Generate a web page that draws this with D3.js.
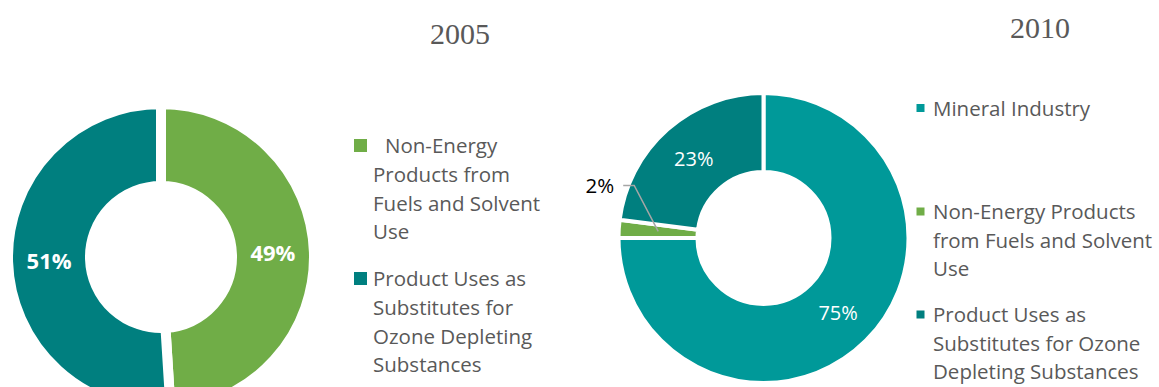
<!DOCTYPE html>
<html>
<head>
<meta charset="utf-8">
<script src="https://cdn.jsdelivr.net/npm/d3@7"></script>
<style>
  html, body { margin: 0; padding: 0; background: #ffffff; }
  svg { display: block; }
</style>
</head>
<body>
<svg id="chart" width="1159" height="387"></svg>
<script>
// ---- data ----
const categories = ["Mineral Industry", "Non-Energy Products from Fuels and Solvent Use", "Product Uses as Substitutes for Ozone Depleting Substances"];
const years = ["2005", "2010"];
const categories2005 = ["Non-Energy Products from Fuels and Solvent Use", "Product Uses as Substitutes for Ozone Depleting Substances"];
const values2005 = [49, 51];
const categories2010 = ["Mineral Industry", "Non-Energy Products from Fuels and Solvent Use", "Product Uses as Substitutes for Ozone Depleting Substances"];
const values2010 = [75, 2, 23];
const legendLines2005 = [["Non-Energy", "Products from", "Fuels and Solvent", "Use"],
                         ["Product Uses as", "Substitutes for", "Ozone Depleting", "Substances"]];
const legendLines2010 = [["Mineral Industry"],
                         ["Non-Energy Products", "from Fuels and Solvent", "Use"],
                         ["Product Uses as", "Substitutes for Ozone", "Depleting Substances"]];

const color = d3.scaleOrdinal()
  .domain(categories)
  .range(["#009999", "#70ad47", "#007f7f"]);

const svg = d3.select("#chart");
const sansFont = "'Open Sans', sans-serif";
const textGrey = "#595959";

// ---- titles ----
svg.append("text").attr("x", 460).attr("y", 44).attr("text-anchor", "middle")
  .attr("font-family", "'Liberation Serif', serif").attr("font-size", 30).attr("fill", textGrey)
  .text(years[0]);
svg.append("text").attr("x", 1040).attr("y", 38).attr("text-anchor", "middle")
  .attr("font-family", "'Liberation Serif', serif").attr("font-size", 30).attr("fill", textGrey)
  .text(years[1]);

const pie = d3.pie().sort(null).value(d => d.value);

// ---- 2005 donut ----
(function () {
  const cx = 161, cy = 257, R = 148, r = 76, sw = 10;
  const data = categories2005.map((c, i) => ({ cat: c, value: values2005[i] }));
  const arcs = pie(data);
  const arc = d3.arc().outerRadius(R + sw / 2).innerRadius(r - sw / 2);
  const labelArc = d3.arc().outerRadius((R + r) / 2).innerRadius((R + r) / 2);
  const g = svg.append("g").attr("transform", `translate(${cx},${cy})`);
  g.selectAll("path").data(arcs).join("path")
    .attr("d", arc).attr("fill", d => color(d.data.cat))
    .attr("stroke", "#ffffff").attr("stroke-width", sw);
  g.selectAll("text").data(arcs).join("text")
    .attr("x", d => labelArc.centroid(d)[0])
    .attr("y", d => labelArc.centroid(d)[1] + 8)
    .attr("text-anchor", "middle")
    .attr("font-family", sansFont).attr("font-weight", "bold").attr("font-size", 22)
    .attr("fill", "#ffffff")
    .text(d => d.data.value + "%");

  // legend
  const lg = svg.append("g");
  const itemTop = [153, 286];
  const lineH = 28.8;
  legendLines2005.forEach((lines, i) => {
    lg.append("rect").attr("x", 354).attr("y", itemTop[i] - 14).attr("width", 13).attr("height", 13)
      .attr("fill", color(categories2005[i]));
    lines.forEach((ln, j) => {
      lg.append("text")
        .attr("x", (i === 0 && j === 0) ? 385 : 373)
        .attr("y", itemTop[i] + j * lineH)
        .attr("font-family", sansFont).attr("font-size", 20.5).attr("fill", textGrey)
        .text(ln);
    });
  });
})();

// ---- 2010 donut ----
(function () {
  const cx = 763.5, cy = 238, R = 143, r = 68, sw = 4;
  const data = categories2010.map((c, i) => ({ cat: c, value: values2010[i] }));
  const arcs = pie(data);
  const arc = d3.arc().outerRadius(R + sw / 2).innerRadius(r - sw / 2);
  const labelArc = d3.arc().outerRadius((R + r) / 2).innerRadius((R + r) / 2);
  const g = svg.append("g").attr("transform", `translate(${cx},${cy})`);
  g.selectAll("path").data(arcs).join("path")
    .attr("d", arc).attr("fill", d => color(d.data.cat))
    .attr("stroke", "#ffffff").attr("stroke-width", sw);

  arcs.forEach(d => {
    const [x, y] = labelArc.centroid(d);
    if (d.data.value >= 5) {
      g.append("text").attr("x", x).attr("y", y + 7).attr("text-anchor", "middle")
        .attr("font-family", sansFont).attr("font-size", 20).attr("fill", "#ffffff")
        .text(d.data.value + "%");
    } else {
      // leader line + outside label
      const ex = x - 24, ey = y - 46;
      g.append("polyline")
        .attr("points", `${x},${y} ${ex},${ey} ${ex - 11},${ey}`)
        .attr("fill", "none").attr("stroke", "#a6a6a6").attr("stroke-width", 1.5);
      g.append("text").attr("x", ex - 20).attr("y", ey + 7.5).attr("text-anchor", "end")
        .attr("font-family", sansFont).attr("font-size", 20.5).attr("fill", "#000000")
        .text(d.data.value + "%");
    }
  });

  // legend
  const lg = svg.append("g");
  const itemTop = [115.5, 219, 322];
  const lineH = 28.5;
  legendLines2010.forEach((lines, i) => {
    lg.append("rect").attr("x", 916.5).attr("y", itemTop[i] - 11.5).attr("width", 8).attr("height", 8)
      .attr("fill", color(categories2010[i]));
    lines.forEach((ln, j) => {
      lg.append("text").attr("x", 933).attr("y", itemTop[i] + j * lineH)
        .attr("font-family", sansFont).attr("font-size", 20.5).attr("fill", textGrey)
        .text(ln);
    });
  });
})();
</script>
</body>
</html>
